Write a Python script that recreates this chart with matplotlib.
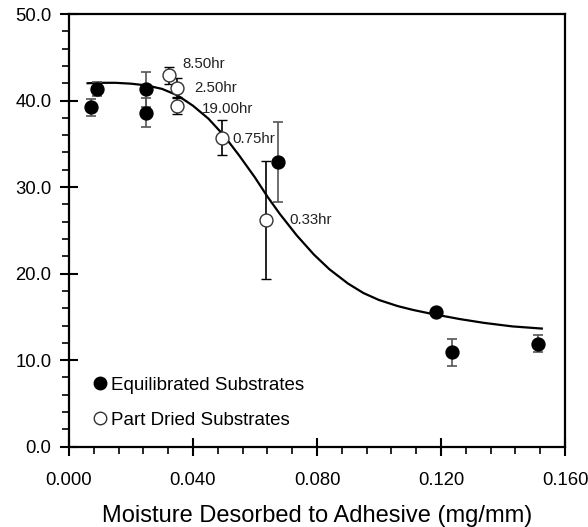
"""Bond strength vs moisture desorbed to adhesive."""
import matplotlib
matplotlib.use("Agg")
import matplotlib.pyplot as plt
from matplotlib.lines import Line2D
from matplotlib.ticker import MultipleLocator, FormatStrFormatter

plt.rcParams["font.family"] = ["Liberation Sans", "DejaVu Sans"]

# Equilibrated substrates (filled)
eq_x = [0.0071, 0.0090, 0.0248, 0.0248, 0.0674, 0.1184, 0.1235, 0.1512]
eq_y = [39.2, 41.3, 41.3, 38.6, 32.9, 15.6, 10.9, 11.9]
eq_err = [1.0, 0.8, 2.0, 1.7, 4.6, 0.0, 1.6, 1.0]

# Part dried substrates (open)
pd_x = [0.0323, 0.0347, 0.0349, 0.0493, 0.0635]
pd_y = [42.9, 41.5, 39.35, 35.7, 26.2]
pd_err = [1.0, 1.1, 0.9, 2.0, 6.8]
pd_labels = ["8.50hr", "2.50hr", "19.00hr", "0.75hr", "0.33hr"]
# label anchor positions (data coords)
lab_x = [0.0367, 0.0404, 0.0430, 0.0526, 0.0710]
lab_y = [44.2, 41.5, 39.0, 35.6, 26.2]

# fitted curve
fit_x = [0.006, 0.010, 0.015, 0.020, 0.025, 0.030, 0.035, 0.040, 0.045,
         0.050, 0.055, 0.060, 0.064, 0.068, 0.0735, 0.079, 0.084, 0.090,
         0.095, 0.100, 0.106, 0.111, 0.117, 0.126, 0.134, 0.143, 0.1525]
fit_y = [42.0, 42.05, 42.05, 41.95, 41.75, 41.35, 40.6, 39.4, 37.9,
         35.95, 33.6, 31.1, 28.9, 26.9, 24.4, 22.2, 20.5, 18.85,
         17.75, 16.95, 16.25, 15.8, 15.35, 14.75, 14.3, 13.9, 13.65]

fig = plt.figure(figsize=(5.88, 5.27), dpi=100)
ax = fig.add_axes([0.1173, 0.1524, 0.961 - 0.1173, 0.9734 - 0.1524])

ax.plot(fit_x, fit_y, color="black", linewidth=1.6, zorder=2,
        solid_joinstyle="round")

ax.errorbar(eq_x, eq_y, yerr=eq_err, fmt="o", color="black", markersize=9.3,
            ecolor="#555555", elinewidth=1.2, capsize=3.5, capthick=1.2,
            zorder=3)
ax.errorbar(pd_x, pd_y, yerr=pd_err, fmt="o", markerfacecolor="white",
            markeredgecolor="#333333", markeredgewidth=1.0, markersize=9.3,
            ecolor="black", elinewidth=1.2, capsize=3.5, capthick=1.2,
            zorder=3)

for t, x, y in zip(pd_labels, lab_x, lab_y):
    ax.text(x, y, t, fontsize=10.8, color="#222222", ha="left", va="center")

ax.set_xlim(0, 0.160)
ax.set_ylim(0, 50)
ax.xaxis.set_major_locator(MultipleLocator(0.040))
ax.xaxis.set_minor_locator(MultipleLocator(0.008))
ax.yaxis.set_major_locator(MultipleLocator(10))
ax.yaxis.set_minor_locator(MultipleLocator(2))
ax.xaxis.set_major_formatter(FormatStrFormatter("%.3f"))
ax.yaxis.set_major_formatter(FormatStrFormatter("%.1f"))
ax.tick_params(which="major", direction="inout", length=13, width=1.5,
               labelsize=13.3, pad=6)
ax.tick_params(axis="x", which="major", pad=12)
ax.tick_params(which="minor", direction="out", length=5, width=1.2)
ax.tick_params(top=False, right=False, which="both")
for s in ax.spines.values():
    s.set_linewidth(1.6)

ax.set_xlabel("Moisture Desorbed to Adhesive (mg/mm)", fontsize=17, labelpad=11)

handles = [
    Line2D([], [], linestyle="none", marker="o", markersize=9,
           color="black"),
    Line2D([], [], linestyle="none", marker="o", markersize=9,
           markerfacecolor="white", markeredgecolor="#333333",
           markeredgewidth=1.0),
]
ax.legend(handles, ["Equilibrated Substrates", "Part Dried Substrates"],
          loc="lower left", bbox_to_anchor=(0.036, 0.024), frameon=False,
          fontsize=13.5, handlelength=0.6, handletextpad=0.3,
          labelspacing=0.95, borderaxespad=0)

fig.savefig("out.png", dpi=100)
